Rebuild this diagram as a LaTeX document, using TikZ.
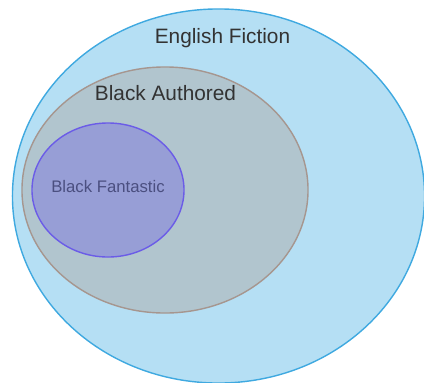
\documentclass[tikz,border=0pt]{standalone}
\usepackage{fontspec}
\setmainfont{Liberation Sans}
\usetikzlibrary{positioning, shapes.geometric}

\definecolor{fictionfill}{HTML}{B5DFF4}
\definecolor{fictionline}{HTML}{3FA9E0}
\definecolor{authoredfill}{HTML}{B1C5CE}
\definecolor{authoredline}{HTML}{A6968F}
\definecolor{fantasticfill}{HTML}{979ED6}
\definecolor{fantasticline}{HTML}{6B5CE7}
\definecolor{labeltext}{HTML}{333333}
\definecolor{innertext}{HTML}{4B4F80}

\tikzset{
  setbox/.style={draw, ellipse, inner sep=0pt, line width=1pt},
  biglabel/.style={font=\fontsize{14.8}{16}\selectfont, text=labeltext, anchor=base, inner sep=0pt},
  smalllabel/.style={font=\fontsize{11.9}{13}\selectfont, text=innertext, anchor=base, inner sep=0pt}
}

\begin{document}
\begin{tikzpicture}[x=0.025cm, y=-0.025cm]
\useasboundingbox (0,0) rectangle (424,383);
% nested sets
\node (fiction) [setbox, fill=fictionfill, draw=fictionline, minimum width=10.3cm, minimum height=9.35cm] at (218.5,196) {};
\node (authored) [setbox, fill=authoredfill, draw=authoredline, minimum width=7.15cm, minimum height=6.15cm] at (165,190) {};
\node (fantastic) [setbox, fill=fantasticfill, draw=fantasticline, minimum width=3.8cm, minimum height=3.35cm] at (108,190) {};

% labels
\node (fictionlabel) [biglabel] at (222.5,43) {English Fiction};
\node (authoredlabel) [biglabel] at (165.5,100) {Black Authored};
\node (fantasticlabel) [smalllabel] at (108,192) {Black Fantastic};
\end{tikzpicture}
\end{document}
